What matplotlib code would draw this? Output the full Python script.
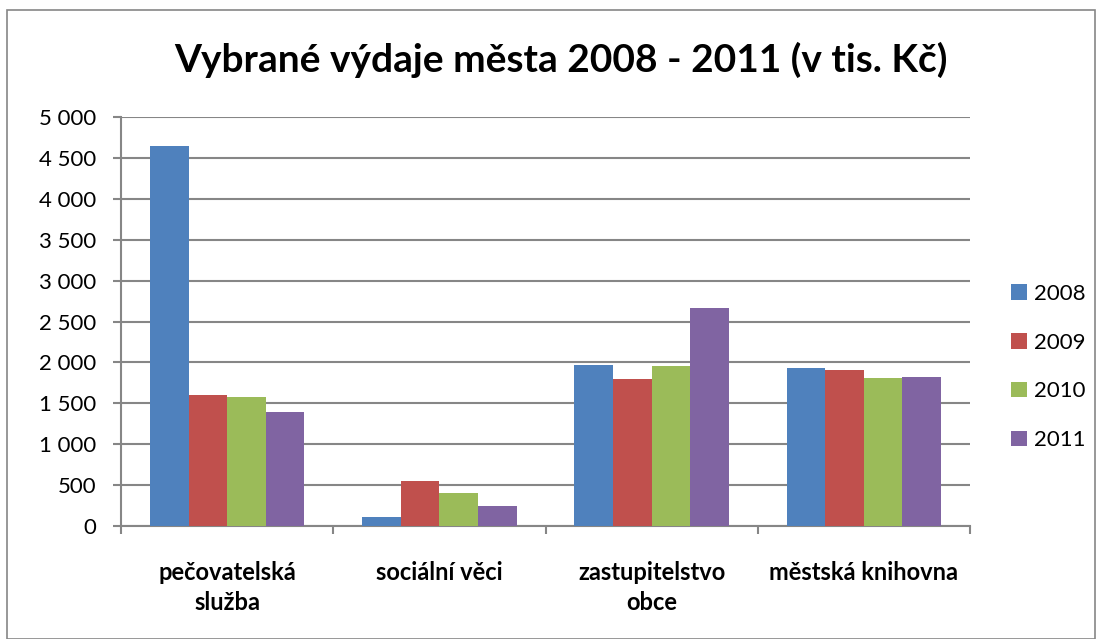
import numpy as np
import matplotlib.pyplot as plt
from matplotlib.patches import Rectangle
from matplotlib.ticker import FuncFormatter

plt.rcParams['font.family'] = ['Lato', 'DejaVu Sans']

categories = ["pečovatelská\nslužba", "sociální věci", "zastupitelstvo\nobce", "městská knihovna"]
years = ["2008", "2009", "2010", "2011"]
v2008 = [4645, 111, 1972, 1927]
v2009 = [1598, 545, 1801, 1911]
v2010 = [1573, 408, 1956, 1809]
v2011 = [1394, 243, 2669, 1825]
colors = ["#4F81BD", "#C0504D", "#9BBB59", "#8064A2"]

fig = plt.figure(figsize=(11.02, 6.39), dpi=100)
# outer chart border
fig.patches.append(Rectangle((7 / 1102, 0.0), 1088 / 1102, 629 / 639, transform=fig.transFigure,
                             fill=False, edgecolor="#868686", linewidth=1.2))
ax = fig.add_axes([121 / 1102, 1 - 526 / 639, 849 / 1102, 409 / 639])

grey = "#868686"
x = np.arange(len(categories))
w = 1 / 5.5
series = [v2008, v2009, v2010, v2011]
for i, (vals, c, yr) in enumerate(zip(series, colors, years)):
    ax.bar(x + (i - 1.5) * w, vals, width=w, color=c, label=yr, zorder=3)

ax.set_xlim(-0.5, 3.5)
ax.set_ylim(0, 5000)
ax.set_yticks(range(0, 5001, 500))
ax.yaxis.set_major_formatter(FuncFormatter(lambda v, p: f"{int(v):,}".replace(",", " ")))
ax.grid(axis="y", color=grey, linewidth=1.5, zorder=0)
for s in ["top", "right"]:
    ax.spines[s].set_visible(False)
for s in ["left", "bottom"]:
    ax.spines[s].set_color(grey)
    ax.spines[s].set_linewidth(1.5)

ax.set_xticks(np.arange(-0.5, 3.6, 1))
ax.set_xticklabels([])
ax.tick_params(axis="x", length=6, width=1.5, color=grey)
ax.tick_params(axis="y", length=5.5, width=1.5, color=grey, labelsize=16, pad=12)
for i, lab in enumerate(categories):
    ax.text(i, -0.085, lab, transform=ax.get_xaxis_transform(), ha="center", va="top",
            fontsize=17, fontweight="bold", linespacing=1.4)

fig.text(561 / 1102, 1 - 60 / 639, "Vybrané výdaje města 2008 - 2011 (v tis. Kč)", ha="center", va="center",
         fontsize=28, fontweight="bold")

fig.legend(loc="center left", bbox_to_anchor=(1011 / 1102, 1 - 367 / 639), frameon=False,
           borderpad=0, borderaxespad=0,
           fontsize=16, handlelength=0.7, handleheight=0.7, labelspacing=1.3, handletextpad=0.35)

fig.savefig("out.png", dpi=100)
